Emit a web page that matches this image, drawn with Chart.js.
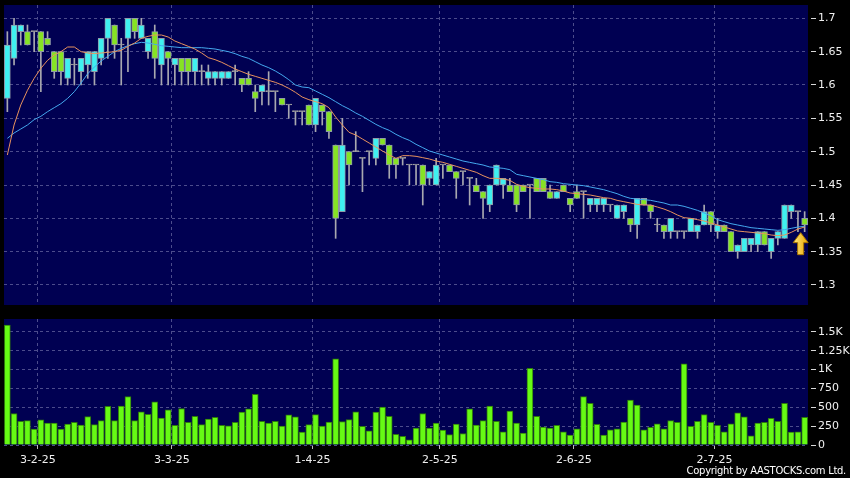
<!DOCTYPE html>
<html>
<head>
<meta charset="utf-8">
<script src="https://cdn.jsdelivr.net/npm/chart.js@4.4.1/dist/chart.umd.min.js"></script>
<style>
  html, body { margin: 0; padding: 0; background: #000; }
  body { width: 850px; height: 478px; position: relative; overflow: hidden; }
  #priceBox { position: absolute; left: 0; top: 0; width: 850px; height: 310px; }
  #volBox { position: absolute; left: 0; top: 310px; width: 850px; height: 168px; }
  #copy { position: absolute; right: 4px; top: 465px; color: #fff; font: 10px "DejaVu Sans", sans-serif; letter-spacing: -0.3px; line-height: 12px; }
</style>
</head>
<body>
<div id="priceBox"><canvas id="priceChart"></canvas></div>
<div id="volBox"><canvas id="volChart"></canvas></div>
<div id="copy">Copyright by AASTOCKS.com Ltd.</div>
<script>
// daily candles, 22 Jan 2025 .. 21 Jul 2025 (HK trading days)
const opens = [1.58,1.64,1.68,1.68,1.68,1.68,1.67,1.65,1.65,1.61, 1.63,1.62,1.63,1.62,1.64,1.67,1.69,1.66,1.67,1.70,
  1.67,1.65,1.68,1.63,1.65,1.63,1.64,1.64,1.62,1.62, 1.61,1.61,1.61,1.61,1.62,1.61,1.61,1.59,1.59,1.59,
  1.59,1.58,1.57,1.56,1.56,1.57,1.54,1.57,1.56,1.51, 1.41,1.50,1.50,1.49,1.50,1.49,1.52,1.51,1.49,1.49,
  1.48,1.48,1.48,1.46,1.45,1.48,1.48,1.47,1.47,1.46, 1.45,1.44,1.42,1.45,1.45,1.45,1.45,1.45,1.45,1.46,
  1.46,1.44,1.43,1.45,1.43,1.44,1.44,1.42,1.42,1.42, 1.42,1.40,1.41,1.40,1.39,1.43,1.42,1.39,1.39,1.38,
  1.38,1.38,1.38,1.38,1.39,1.41,1.38,1.39,1.38,1.35, 1.35,1.36,1.36,1.38,1.35,1.37,1.37,1.41,1.41,1.40];
const highs = [1.68,1.70,1.69,1.69,1.68,1.68,1.68,1.65,1.65,1.64, 1.64,1.64,1.65,1.65,1.67,1.70,1.69,1.67,1.70,1.70,
  1.70,1.67,1.69,1.67,1.65,1.64,1.64,1.64,1.64,1.63, 1.63,1.62,1.62,1.62,1.63,1.61,1.62,1.60,1.60,1.62,
  1.59,1.58,1.57,1.56,1.56,1.57,1.58,1.57,1.56,1.51, 1.55,1.50,1.53,1.49,1.50,1.52,1.52,1.51,1.49,1.49,
  1.48,1.48,1.48,1.47,1.49,1.48,1.48,1.47,1.47,1.46, 1.46,1.44,1.45,1.48,1.46,1.46,1.45,1.45,1.45,1.46,
  1.46,1.45,1.44,1.45,1.43,1.45,1.44,1.43,1.43,1.43, 1.42,1.42,1.42,1.40,1.43,1.43,1.42,1.40,1.39,1.40,
  1.38,1.38,1.40,1.39,1.42,1.41,1.40,1.39,1.38,1.36, 1.37,1.37,1.38,1.38,1.37,1.38,1.42,1.42,1.41,1.41];
const lows = [1.56,1.63,1.66,1.66,1.65,1.59,1.66,1.61,1.60,1.60, 1.60,1.60,1.61,1.60,1.63,1.64,1.64,1.60,1.62,1.67,
  1.67,1.64,1.61,1.60,1.60,1.60,1.60,1.60,1.60,1.60, 1.60,1.60,1.60,1.61,1.60,1.59,1.60,1.56,1.57,1.57,
  1.56,1.57,1.55,1.54,1.54,1.54,1.53,1.54,1.52,1.37, 1.41,1.45,1.50,1.44,1.48,1.48,1.51,1.46,1.46,1.48,
  1.45,1.45,1.42,1.45,1.45,1.46,1.47,1.43,1.45,1.42, 1.44,1.40,1.41,1.45,1.43,1.44,1.41,1.44,1.40,1.44,
  1.44,1.43,1.43,1.44,1.41,1.43,1.40,1.41,1.41,1.41, 1.41,1.40,1.40,1.38,1.37,1.42,1.40,1.38,1.37,1.37,
  1.37,1.37,1.38,1.37,1.39,1.38,1.37,1.38,1.35,1.34, 1.35,1.35,1.35,1.36,1.34,1.36,1.37,1.40,1.38,1.38];
const closes = [1.66,1.69,1.69,1.66,1.68,1.65,1.66,1.62,1.62,1.64, 1.63,1.64,1.65,1.65,1.67,1.70,1.66,1.66,1.70,1.68,
  1.69,1.67,1.64,1.67,1.64,1.64,1.62,1.62,1.64,1.62, 1.62,1.62,1.62,1.62,1.62,1.60,1.60,1.58,1.60,1.59,
  1.59,1.57,1.57,1.56,1.56,1.54,1.58,1.56,1.53,1.40, 1.51,1.48,1.50,1.49,1.50,1.52,1.51,1.48,1.48,1.49,
  1.48,1.48,1.45,1.47,1.48,1.48,1.47,1.46,1.47,1.46, 1.44,1.43,1.45,1.48,1.46,1.44,1.42,1.44,1.45,1.44,
  1.44,1.43,1.44,1.44,1.42,1.43,1.44,1.43,1.43,1.43, 1.42,1.42,1.42,1.39,1.43,1.42,1.41,1.39,1.38,1.40,
  1.38,1.38,1.40,1.39,1.41,1.39,1.39,1.38,1.35,1.36, 1.37,1.37,1.38,1.36,1.37,1.38,1.42,1.42,1.41,1.39];
const volumes = [1590,417,314,323,210,332,291,291,210,278, 300,264,376,269,323,511,323,515,641,323,
  439,408,573,358,466,260,484,300,381,269, 345,367,260,255,300,435,479,672,314,291,
  314,251,399,372,170,269,403,251,305,1142, 312,336,439,246,188,435,502,381,143,116,
  67,224,417,224,291,197,139,278,152,479, 264,323,515,314,175,448,291,157,1017,381,
  237,224,260,175,130,215,641,551,273,130, 202,215,305,596,529,202,233,282,215,323,
  300,1075,246,314,403,300,260,175,282,426, 372,121,291,300,354,314,551,170,175,367];
const ma10 = [1.495,1.540,1.570,1.592,1.610,1.625,1.637,1.645,1.650,1.657, 1.657,1.650,1.648,1.647,1.648,1.649,1.650,1.652,1.658,1.663,
  1.670,1.673,1.675,1.675,1.672,1.666,1.662,1.658,1.654,1.648, 1.641,1.638,1.634,1.629,1.624,1.620,1.616,1.613,1.610,1.607,
  1.604,1.600,1.595,1.589,1.582,1.578,1.575,1.572,1.566,1.552, 1.540,1.529,1.525,1.519,1.513,1.507,1.501,1.495,1.490,1.494,
  1.494,1.493,1.491,1.489,1.486,1.484,1.481,1.478,1.475,1.472, 1.469,1.464,1.460,1.460,1.459,1.457,1.451,1.448,1.446,1.445,
  1.444,1.444,1.443,1.441,1.438,1.437,1.436,1.435,1.433,1.431, 1.430,1.427,1.425,1.423,1.421,1.420,1.420,1.417,1.414,1.410,
  1.405,1.401,1.400,1.398,1.396,1.393,1.390,1.387,1.384,1.381, 1.380,1.379,1.378,1.377,1.375,1.374,1.375,1.379,1.384,1.387];
const ma20 = [1.520,1.528,1.534,1.540,1.548,1.553,1.560,1.566,1.572,1.580, 1.590,1.603,1.617,1.627,1.636,1.643,1.650,1.655,1.659,1.662,
  1.664,1.663,1.661,1.659,1.658,1.657,1.656,1.656,1.656,1.656, 1.655,1.654,1.652,1.650,1.647,1.643,1.640,1.635,1.630,1.626,
  1.621,1.615,1.608,1.600,1.597,1.596,1.591,1.586,1.581,1.575, 1.569,1.564,1.558,1.553,1.547,1.541,1.536,1.532,1.526,1.521,
  1.517,1.511,1.506,1.501,1.498,1.495,1.492,1.489,1.486,1.484, 1.482,1.480,1.477,1.476,1.475,1.473,1.466,1.464,1.462,1.460,
  1.458,1.455,1.454,1.452,1.451,1.450,1.449,1.447,1.445,1.443, 1.440,1.437,1.433,1.430,1.429,1.428,1.427,1.425,1.423,1.420,
  1.420,1.418,1.415,1.412,1.408,1.404,1.398,1.395,1.392,1.390, 1.388,1.386,1.385,1.384,1.383,1.382,1.383,1.385,1.387,1.388];

// month marks (first trading day of each month) on the x axis
const tickIdx = [5, 25, 46, 65, 85, 106];
const tickText = ['3-2-25', '3-3-25', '1-4-25', '2-5-25', '2-6-25', '2-7-25'];
const priceTicks = [1.3, 1.35, 1.4, 1.45, 1.5, 1.55, 1.6, 1.65, 1.7];
const priceLabels = ['1.3', '1.35', '1.4', '1.45', '1.5', '1.55', '1.6', '1.65', '1.7'];
const volTicks = [0, 250, 500, 750, 1000, 1250, 1500];
const volLabels = ['0', '250', '500', '750', '1K', '1.25K', '1.5K'];

const labels = closes.map((c, i) => i);
const font = { family: '"DejaVu Sans", sans-serif', size: 11 };
const gridCol = '#4c4c8c';
const UP = '#3ff0f0', DOWN = '#86e324', FLAT = '#a0a0a0';

const bodyColors = opens.map((o, i) => closes[i] > o ? UP : closes[i] < o ? DOWN : FLAT);
const bodyBorders = opens.map((o, i) => closes[i] === o ? FLAT : '#8f9aa8');
const monthGrid = (ctx) => tickIdx.includes(ctx.index) ? gridCol : 'rgba(0,0,0,0)';

// right axis with fixed width and no extra label padding above/below
const fitRight = (s) => { s.width = 42; s.paddingTop = 0; s.paddingBottom = 0; };

const plotBg = {
  id: 'plotBg',
  beforeDraw(chart) {
    const { ctx, chartArea: a } = chart;
    ctx.save();
    ctx.fillStyle = '#000052';
    ctx.fillRect(a.left, a.top, a.right - a.left, a.bottom - a.top);
    ctx.restore();
  }
};

// yellow arrow under the last candle
const lastArrow = {
  id: 'lastArrow',
  afterDatasetsDraw(chart) {
    const { ctx, scales } = chart;
    const n = lows.length - 1;
    const x = scales.x.getPixelForValue(n) - 4;
    const y = scales.y.getPixelForValue(lows[n]) + 1;
    ctx.save();
    const g = ctx.createLinearGradient(x - 7, 0, x + 7, 0);
    g.addColorStop(0, '#ffe680');
    g.addColorStop(1, '#e8a800');
    ctx.fillStyle = g;
    ctx.strokeStyle = '#a87400';
    ctx.lineWidth = 1;
    ctx.beginPath();
    ctx.moveTo(x, y);
    ctx.lineTo(x + 7.5, y + 10);
    ctx.lineTo(x + 3, y + 10);
    ctx.lineTo(x + 3, y + 22);
    ctx.lineTo(x - 3, y + 22);
    ctx.lineTo(x - 3, y + 10);
    ctx.lineTo(x - 7.5, y + 10);
    ctx.closePath();
    ctx.fill();
    ctx.stroke();
    ctx.restore();
  }
};

new Chart(document.getElementById('priceChart'), {
  type: 'bar',
  data: {
    labels: labels,
    datasets: [
      { type: 'line', data: ma10, borderColor: '#e8925e', borderWidth: 1, pointRadius: 0, order: 1 },
      { type: 'line', data: ma20, borderColor: '#44a8ee', borderWidth: 1, pointRadius: 0, order: 1 },
      {
        data: opens.map((o, i) => [o, closes[i]]),
        backgroundColor: bodyColors, borderColor: bodyBorders, borderWidth: 1,
        borderSkipped: false, barThickness: 6, minBarLength: 1, grouped: false, order: 2
      },
      {
        data: lows.map((l, i) => [l, highs[i]]),
        backgroundColor: '#a8a8b0', barThickness: 1, grouped: false, order: 3
      }
    ]
  },
  options: {
    animation: false,
    responsive: true,
    maintainAspectRatio: false,
    devicePixelRatio: 1,
    layout: { padding: { left: 4, top: 5, right: 0, bottom: 0 } },
    plugins: { legend: { display: false }, tooltip: { enabled: false } },
    scales: {
      x: {
        offset: true,
        grid: { offset: true, color: monthGrid, drawTicks: false },
        border: { display: false, dash: [3, 3] },
        ticks: { display: false, autoSkip: false },
        afterFit: (s) => { s.height = 5; s.paddingLeft = 0; s.paddingRight = 0; }
      },
      y: {
        position: 'right',
        min: 1.27,
        max: 1.72,
        afterBuildTicks: (s) => { s.ticks = priceTicks.map(v => ({ value: v })); },
        afterFit: fitRight,
        grid: { color: gridCol, tickColor: '#d8d8d8', tickLength: 8, tickBorderDash: [0, 3, 5, 100] },
        border: { display: false, dash: [3, 3] },
        ticks: { color: '#f0f0f0', padding: 2, font: font, callback: (v, i) => priceLabels[i] }
      }
    }
  },
  plugins: [plotBg, lastArrow]
});

new Chart(document.getElementById('volChart'), {
  type: 'bar',
  data: {
    labels: labels,
    datasets: [{
      data: volumes,
      backgroundColor: '#66fa14', borderColor: '#2f7a0c', borderWidth: 1,
      barThickness: 6
    }]
  },
  options: {
    animation: false,
    responsive: true,
    maintainAspectRatio: false,
    devicePixelRatio: 1,
    layout: { padding: { left: 4, top: 9, right: 0, bottom: 0 } },
    plugins: { legend: { display: false }, tooltip: { enabled: false } },
    scales: {
      x: {
        offset: true,
        grid: { offset: true, color: monthGrid, tickColor: (ctx) => tickIdx.includes(ctx.index) ? '#bbbbbb' : 'rgba(0,0,0,0)', tickLength: 4 },
        border: { display: false, dash: [3, 3] },
        ticks: {
          autoSkip: false, maxRotation: 0, minRotation: 0, padding: 5, labelOffset: -3,
          color: '#f0f0f0', font: font,
          callback: (v, i) => { const k = tickIdx.indexOf(i); return k >= 0 ? tickText[k] : ''; }
        },
        afterFit: (s) => { s.height = 33; s.paddingLeft = 0; s.paddingRight = 0; }
      },
      y: {
        position: 'right',
        min: 0,
        max: 1670,
        afterBuildTicks: (s) => { s.ticks = volTicks.map(v => ({ value: v })); },
        afterFit: fitRight,
        grid: { color: gridCol, tickColor: '#d8d8d8', tickLength: 8, tickBorderDash: [0, 3, 5, 100] },
        border: { display: false, dash: [3, 3] },
        ticks: { color: '#f0f0f0', padding: 2, font: font, callback: (v, i) => volLabels[i] }
      }
    }
  },
  plugins: [plotBg]
});
</script>
</body>
</html>
